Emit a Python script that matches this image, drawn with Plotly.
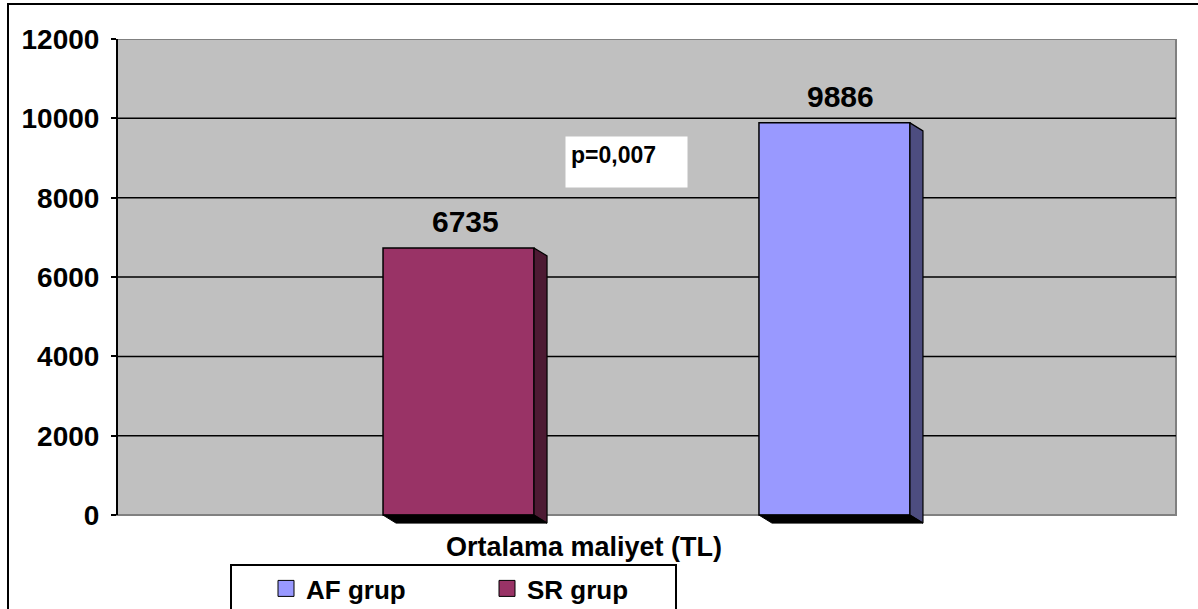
import plotly.graph_objects as go

# Average cost per patient group
category = "Ortalama maliyet (TL)"
series_names = ["SR grup", "AF grup"]
series_values = [6735, 9886]
front_colors = ["#993366", "#9999FF"]
side_colors = ["#4D1A33", "#4D4D80"]
legend_order = ["AF grup", "SR grup"]

y_ticks = [0, 2000, 4000, 6000, 8000, 10000, 12000]
y_max = 12000
y_floor = -300          # room below zero for the bar bases

# Layout of the plot area (px)
W, H = 1198, 609
M_L, M_R, M_T, M_B = 117, 22, 39, 82
plot_w = W - M_L - M_R
plot_h = H - M_T - M_B


def px_to_paper_x(px):
    return (px - M_L) / plot_w


def px_to_paper_y(px):
    return (plot_h + M_T - px) / plot_h


# Bar geometry in x-axis units (x range is [-0.5, 0.5])
bar_w = 151 / plot_w
bar_centers = [-0.1775, 0.1775]
# Pseudo-3D depth of each bar
depth_px_x, depth_px_y = 13, 8
dx = depth_px_x / plot_w
dy = depth_px_y * (y_max - y_floor) / plot_h

FONT = "Liberation Sans, Arial, sans-serif"

fig = go.Figure()

# Front faces
for name, val, c, col in zip(series_names, series_values, bar_centers, front_colors):
    fig.add_trace(go.Bar(
        x=[0], y=[val], width=[bar_w], offset=[c - bar_w / 2],
        marker=dict(color=col, line=dict(color="black", width=1.5)),
        name=name, showlegend=False, hoverinfo="skip",
    ))

# Side and bottom faces
for val, c, scol in zip(series_values, bar_centers, side_colors):
    xl, xr = c - bar_w / 2, c + bar_w / 2
    fig.add_trace(go.Scatter(
        x=[xr, xr + dx, xr + dx, xr, xr], y=[val, val - dy, -dy, 0, val],
        mode="lines", fill="toself", fillcolor=scol,
        line=dict(color="black", width=1.2), showlegend=False, hoverinfo="skip",
    ))
    fig.add_trace(go.Scatter(
        x=[xl, xr, xr + dx, xl + dx, xl], y=[0, 0, -dy, -dy, 0],
        mode="lines", fill="toself", fillcolor="black",
        line=dict(color="black", width=1), showlegend=False, hoverinfo="skip",
    ))

# Legend entries
for name in legend_order:
    col = front_colors[series_names.index(name)]
    fig.add_trace(go.Scatter(
        x=[None], y=[None], mode="markers", name=name,
        marker=dict(symbol="square", size=16, color=col, line=dict(color="black", width=1)),
    ))

shapes = []
# Grey back wall
shapes.append(dict(type="rect", xref="paper", yref="y", x0=0, x1=1, y0=0, y1=y_max,
                   fillcolor="#C0C0C0", line=dict(color="#808080", width=2), layer="below"))
# Gridlines
for t in y_ticks[1:-1]:
    shapes.append(dict(type="line", xref="paper", yref="y", x0=0, x1=1, y0=t, y1=t,
                       line=dict(color="black", width=1.5), layer="below"))
# Value axis line
shapes.append(dict(type="line", xref="paper", yref="y", x0=0, x1=0, y0=0, y1=y_max,
                   line=dict(color="black", width=2), layer="above"))
# Chart border
shapes.append(dict(type="rect", xref="paper", yref="paper",
                   x0=px_to_paper_x(8), x1=px_to_paper_x(W + 10),
                   y0=px_to_paper_y(H + 40), y1=px_to_paper_y(4),
                   line=dict(color="black", width=2), fillcolor="rgba(0,0,0,0)", layer="below"))
# Legend frame
shapes.append(dict(type="rect", xref="paper", yref="paper",
                   x0=px_to_paper_x(231), x1=px_to_paper_x(676),
                   y0=px_to_paper_y(H + 20), y1=px_to_paper_y(565),
                   line=dict(color="black", width=2), fillcolor="white", layer="below"))

annotations = []
for val, c in zip(series_values, bar_centers):
    annotations.append(dict(
        x=c + dx / 2, y=val, xref="x", yref="y", text=f"<b>{val}</b>",
        showarrow=False, yanchor="bottom", yshift=8,
        font=dict(family=FONT, size=30, color="black"),
    ))
annotations.append(dict(
    x=px_to_paper_x(626.5), y=px_to_paper_y(162), xref="paper", yref="paper",
    xanchor="center", yanchor="middle",
    text="<b>p=0,007</b>", showarrow=False, width=111, height=40, borderpad=5,
    bgcolor="white", align="left", valign="top",
    font=dict(family=FONT, size=23, color="black"),
))
annotations.append(dict(
    x=px_to_paper_x(583.5), y=px_to_paper_y(547), xref="paper", yref="paper",
    xanchor="center", yanchor="middle",
    text=f"<b>{category}</b>", showarrow=False,
    font=dict(family=FONT, size=27, color="black"),
))

fig.update_layout(
    width=W, height=H,
    margin=dict(l=M_L, r=M_R, t=M_T, b=M_B, autoexpand=False),
    paper_bgcolor="white", plot_bgcolor="rgba(0,0,0,0)",
    barmode="overlay",
    shapes=shapes, annotations=annotations,
    xaxis=dict(range=[-0.5, 0.5], showticklabels=False, showgrid=False,
               zeroline=False, showline=False, ticks=""),
    yaxis=dict(range=[y_floor, y_max], tickvals=y_ticks, ticktext=[str(t) for t in y_ticks],
               showgrid=False, zeroline=False, showline=False,
               ticks="outside", ticklen=5, tickwidth=2, tickcolor="black",
               ticklabelstandoff=6,
               tickfont=dict(family=FONT, size=28, color="black", weight="bold")),
    legend=dict(orientation="h", x=px_to_paper_x(266), y=px_to_paper_y(565),
                xanchor="left", yanchor="top",
                bgcolor="rgba(0,0,0,0)", borderwidth=0,
                entrywidth=176, entrywidthmode="pixels",
                font=dict(family=FONT, size=26, color="black", weight="bold")),
    showlegend=True,
)

fig.write_html("out.html")
